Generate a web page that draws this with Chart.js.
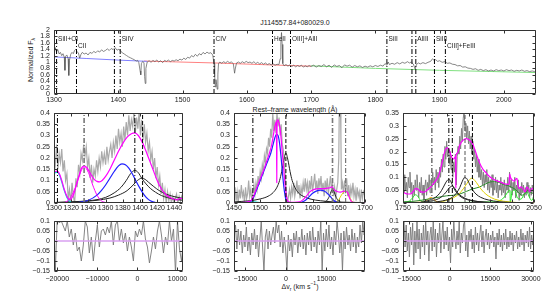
<!DOCTYPE html>
<html>
<head>
<meta charset="utf-8">
<script src="https://cdn.jsdelivr.net/npm/chart.js@4"></script>
<style>
  body { margin: 0; background: #fff; width: 555px; height: 292px; position: relative; overflow: hidden;
         font-family: "Liberation Sans", Arial, sans-serif; color: #222; }
  canvas { position: absolute; }
  .lbl { position: absolute; font-size: 7px; white-space: nowrap; transform: translate(-50%, -50%); }
  .lbl sub, .lbl sup { font-size: 5px; line-height: 0; }
</style>
</head>
<body>
<div class="lbl" style="left:295px;top:22px">J114557.84+080029.0</div>
<div class="lbl" style="left:30px;top:60px;transform:translate(-50%,-50%) rotate(-90deg)">Normalized F<sub>λ</sub></div>
<div class="lbl" style="left:295px;top:109px">Rest&ndash;frame wavelength (Å)</div>
<div class="lbl" style="left:300px;top:286px">Δv<sub>r</sub> (km s<sup>−1</sup>)</div>

<canvas id="cTop"></canvas>
<canvas id="cMidL"></canvas>
<canvas id="cMidC"></canvas>
<canvas id="cMidR"></canvas>
<canvas id="cResL"></canvas>
<canvas id="cResC"></canvas>
<canvas id="cResR"></canvas>

<script>
// ---- Top panel: full normalized spectrum ----
const topWave = [1300,1302,1304,1306,1308,1310,1312,1314,1316,1317,1318,1320,1322,1323,1324,1326,1328,1330,1332,1334,1336,1338,1340,1342,1344,1347,1350,1353,1356,1359,1362,1365,1368,1371,1374,1377,1380,1383,1386,1389,1392,1395,1398,1401,1404,1407,1410,1413,1416,1419,1422,1425,1428,1430,1432,1434,1435,1436,1438,1440,1441,1442,1443,1445,1448,1451,1454,1457,1460,1463,1466,1469,1472,1475,1478,1481,1484,1487,1490,1493,1496,1499,1502,1505,1508,1511,1514,1517,1520,1523,1526,1529,1532,1535,1538,1541,1544,1547,1549,1550,1551,1552,1553,1554,1555,1556,1558,1561,1564,1567,1570,1573,1576,1579,1581,1582,1584,1587,1590,1593,1596,1599,1602,1605,1608,1611,1614,1617,1620,1623,1626,1629,1632,1635,1638,1641,1644,1647,1650,1652,1653,1654,1655,1656,1658,1661,1664,1667,1670,1673,1676,1679,1682,1685,1688,1691,1694,1697,1700,1704,1708,1712,1716,1720,1724,1728,1732,1736,1740,1744,1748,1752,1756,1760,1764,1768,1772,1776,1780,1784,1788,1792,1796,1800,1804,1808,1812,1815,1818,1820,1822,1826,1830,1834,1838,1842,1846,1850,1853,1856,1859,1862,1864,1867,1870,1874,1878,1882,1886,1889,1891,1894,1897,1900,1904,1908,1912,1916,1920,1924,1928,1932,1936,1940,1944,1948,1952,1956,1960,1964,1968,1972,1976,1980,1984,1988,1992,1996,2000,2004,2008,2012,2016,2020,2024,2028,2032,2036,2040,2044,2048,2050];
const topFlux = [1.22,1.45,1.33,1.38,1.25,1.30,1.20,1.26,1.15,0.74,1.18,1.22,1.10,0.58,1.05,1.24,1.30,1.26,1.36,1.40,1.32,1.28,1.12,1.24,1.30,1.25,1.28,1.22,1.30,1.27,1.33,1.29,1.35,1.31,1.38,1.33,1.36,1.41,1.36,1.42,1.39,1.45,1.37,1.40,1.33,1.28,1.24,1.20,1.16,1.13,1.10,1.07,1.03,1.05,0.98,0.72,0.60,0.95,1.02,0.98,0.55,0.33,0.80,1.00,1.04,0.99,1.05,1.01,1.06,1.00,1.04,0.98,1.05,1.02,1.06,1.01,1.05,1.03,1.07,1.04,1.09,1.06,1.12,1.08,1.15,1.12,1.20,1.16,1.24,1.18,1.26,1.22,1.30,1.25,1.31,1.27,1.29,1.22,0.95,0.55,0.22,0.45,0.30,0.15,0.62,0.95,1.00,0.96,1.01,0.97,1.02,0.98,1.00,0.95,0.65,0.78,0.97,1.00,0.96,1.01,0.97,1.02,0.98,1.00,0.96,1.01,0.95,0.99,0.94,0.98,0.93,0.97,0.92,0.95,0.91,0.94,0.90,0.93,0.92,1.10,1.60,1.92,1.55,0.95,0.88,0.92,0.87,0.91,0.86,0.90,0.85,0.89,0.86,0.90,0.84,0.88,0.85,0.89,0.86,0.90,0.84,0.89,0.86,0.92,0.85,0.90,0.83,0.91,0.86,0.89,0.82,0.91,0.87,0.90,0.84,0.89,0.85,0.88,0.83,0.87,0.84,0.88,0.85,0.89,0.86,0.90,0.87,0.95,0.90,1.00,0.92,0.96,0.93,0.98,0.94,0.99,0.96,1.01,0.97,1.00,0.94,0.78,0.92,0.97,0.94,0.98,0.95,0.99,1.02,1.10,1.06,1.07,1.02,1.04,0.99,1.01,0.96,0.97,0.93,0.92,0.88,0.89,0.84,0.85,0.81,0.80,0.77,0.79,0.74,0.77,0.73,0.76,0.72,0.75,0.72,0.76,0.73,0.75,0.72,0.76,0.73,0.75,0.71,0.74,0.72,0.75,0.71,0.73,0.70,0.72,0.70,0.71];
const contBlue  = [[1300,1.16],[1350,1.11],[1400,1.06],[1445,1.02]];
const contRed   = [[1440,1.03],[1550,0.97],[1650,0.90],[1700,0.87]];
const contGreen = [[1700,0.88],[1800,0.80],[1900,0.74],[2050,0.67]];
const topLineWaves = [1304,1335,1394,1403,1549,1640,1668,1818,1857,1863,1892,1909];
const topLabelText = ['SiII+OI','CII','SiIV','CIV','HeII','OIII]+AlII','SiII','AlIII','SiIII','CIII]+FeIII'];
const topLabelWave = [1304,1335,1403,1549,1640,1668,1818,1863,1892,1909];
const topLabelRow  = [0,1,0,0,0,0,0,0,0,1];
const topXTicks = [1300,1400,1500,1600,1700,1800,1900,2000];
const topYTicks = [0,0.2,0.4,0.6,0.8,1,1.2,1.4,1.6,1.8,2];

// ---- Middle left: SiIV region ----
const midLWave = [1300,1301.5,1303,1304.5,1306,1307.5,1309,1310.5,1312,1313.5,1315,1316.5,1318,1319.5,1321,1322.5,1324,1325.5,1327,1328.5,1330,1331.5,1333,1334.5,1336,1337.5,1339,1340.5,1342,1343.5,1345,1346.5,1348,1349.5,1351,1352.5,1354,1355.5,1357,1358.5,1360,1361.5,1363,1364.5,1366,1367.5,1369,1370.5,1372,1373.5,1375,1376.5,1378,1379.5,1381,1382.5,1384,1385.5,1387,1388.5,1390,1391.5,1393,1394.5,1396,1397.5,1399,1400.5,1402,1403.5,1405,1406.5,1408,1409.5,1411,1412.5,1414,1415.5,1417,1418.5,1420,1421.5,1423,1424.5,1426,1427.5,1429,1430.5,1432,1433.5,1435,1436.5,1438,1439.5,1441,1442.5,1444,1445.5,1447,1448.5,1450];
const midLFlux = [0.21,0.17,0.26,0.15,0.22,0.18,0.24,0.14,0.19,0.10,0.13,0.02,0.06,0.00,0.09,0.03,0.00,0.11,0.07,0.17,0.13,0.22,0.19,0.26,0.21,0.25,0.16,0.20,0.11,0.17,0.09,0.15,0.12,0.19,0.14,0.20,0.16,0.23,0.18,0.22,0.17,0.25,0.19,0.23,0.26,0.20,0.27,0.23,0.30,0.24,0.33,0.27,0.31,0.25,0.34,0.28,0.36,0.30,0.39,0.32,0.37,0.34,0.41,0.31,0.38,0.33,0.41,0.30,0.37,0.28,0.35,0.27,0.31,0.23,0.27,0.19,0.23,0.15,0.20,0.11,0.16,0.08,0.12,0.04,0.09,0.02,0.06,0.00,0.05,0.01,0.04,0.00,0.03,0.00,0.02,0.04,0.00,0.03,0.01,0.03,0.01];
const midLTotal = [[1300,0.134],[1302,0.141],[1304,0.142],[1306,0.132],[1309,0.1],[1312,0.06],[1315,0.03],[1318,0.014],[1320,0.018],[1323,0.04],[1326,0.08],[1329,0.12],[1332,0.155],[1335,0.165],[1338,0.158],[1341,0.14],[1344,0.12],[1347,0.104],[1350,0.096],[1353,0.094],[1356,0.1],[1360,0.118],[1365,0.15],[1370,0.19],[1375,0.23],[1380,0.265],[1385,0.293],[1390,0.308],[1394,0.312],[1398,0.3],[1402,0.275],[1406,0.24],[1410,0.2],[1415,0.15],[1420,0.1],[1425,0.062],[1430,0.038],[1435,0.024],[1440,0.016],[1443,0.014],[1446,0.02],[1450,0.02]];
const midLCyan  = [[1300,0.13],[1302,0.136],[1304,0.137],[1306,0.127],[1309,0.094],[1312,0.055],[1315,0.025],[1318,0.008],[1321,0.002],[1325,0]];
const midLCII   = [[1312,0.002],[1316,0.01],[1320,0.03],[1325,0.07],[1330,0.128],[1335,0.16],[1340,0.136],[1345,0.08],[1350,0.035],[1355,0.01],[1360,0.002]];
const midLBlue  = [[1320,0],[1330,0.003],[1340,0.012],[1350,0.035],[1355,0.055],[1360,0.08],[1365,0.11],[1370,0.14],[1375,0.165],[1379,0.174],[1383,0.17],[1387,0.155],[1391,0.13],[1395,0.1],[1400,0.065],[1405,0.035],[1410,0.015],[1415,0.005],[1420,0]];
const midLBlack1 = [[1300,0.002],[1320,0.005],[1340,0.01],[1350,0.015],[1360,0.025],[1370,0.045],[1378,0.07],[1384,0.1],[1389,0.13],[1394,0.145],[1398,0.135],[1402,0.11],[1407,0.085],[1412,0.065],[1418,0.048],[1425,0.033],[1432,0.024],[1440,0.017],[1450,0.012]];
const midLBlack2 = [[1300,0.002],[1330,0.006],[1350,0.012],[1365,0.022],[1375,0.035],[1385,0.055],[1392,0.08],[1397,0.1],[1402,0.11],[1406,0.105],[1410,0.092],[1416,0.073],[1422,0.056],[1430,0.04],[1438,0.03],[1450,0.02]];
const midLLines = [1304,1335,1394,1403];
const midLXTicks = [1300,1320,1340,1360,1380,1400,1420,1440];

// ---- Middle centre: CIV region ----
const midCWave = [1450,1452,1454,1456,1458,1460,1462,1464,1466,1468,1470,1472,1474,1476,1478,1480,1482,1484,1486,1488,1490,1492,1494,1496,1498,1500,1502,1504,1506,1508,1510,1512,1514,1516,1518,1520,1522,1524,1526,1528,1530,1532,1534,1536,1538,1540,1542,1544,1546,1548,1550,1552,1554,1556,1558,1560,1562,1564,1566,1568,1570,1572,1574,1576,1578,1580,1582,1584,1586,1588,1590,1592,1594,1596,1598,1600,1602,1604,1606,1608,1610,1612,1614,1616,1618,1620,1622,1624,1626,1628,1630,1632,1634,1636,1638,1640,1642,1644,1646,1648,1650,1651,1652,1653,1654,1655,1657,1659,1661,1663,1665,1667,1669,1671,1673,1675,1677,1679,1681,1683,1685,1687,1689,1691,1693,1695,1697,1700];
const midCFlux = [0.03,0.07,0.01,0.05,0.00,0.06,0.02,0.08,0.03,0.05,0.00,0.07,0.02,0.04,0.10,0.03,0.06,0.01,0.05,0.08,0.04,0.09,0.06,0.12,0.08,0.14,0.11,0.17,0.14,0.21,0.18,0.24,0.22,0.29,0.25,0.33,0.29,0.40,0.32,0.37,0.31,0.40,0.34,0.38,0.30,0.35,0.26,0.24,0.18,0.12,0.04,0.00,0.03,0.06,0.02,0.07,0.04,0.09,0.03,0.06,0.10,0.04,0.08,0.02,0.07,0.04,0.09,0.05,0.11,0.06,0.09,0.03,0.10,0.06,0.12,0.05,0.09,0.13,0.06,0.10,0.04,0.11,0.07,0.12,0.05,0.09,0.03,0.10,0.06,0.11,0.04,0.08,0.12,0.06,0.09,0.03,0.07,0.02,0.06,0.09,0.20,0.45,0.45,0.45,0.30,0.06,0.09,0.04,0.10,0.06,0.11,0.03,0.08,0.02,0.07,0.04,0.09,0.03,0.06,0.01,0.07,0.03,0.05,0.00,0.06,0.02,0.05,0.03];
const midCTotal = [[1450,0.002],[1470,0.003],[1478,0.006],[1483,0.012],[1488,0.035],[1493,0.065],[1498,0.095],[1503,0.125],[1508,0.155],[1513,0.19],[1518,0.225],[1522,0.26],[1525,0.3],[1528,0.34],[1531,0.362],[1531.6,0.09],[1532.2,0.368],[1534,0.37],[1536,0.355],[1538,0.33],[1540,0.285],[1543,0.2],[1546,0.12],[1549,0.05],[1552,0.012],[1556,0.004],[1565,0.003],[1575,0.005],[1582,0.015],[1588,0.03],[1594,0.048],[1600,0.058],[1607,0.063],[1614,0.064],[1621,0.064],[1628,0.066],[1633,0.068],[1637,0.072],[1640,0.063],[1644,0.054],[1648,0.05],[1652,0.048],[1656,0.05],[1660,0.053],[1664,0.052],[1667,0.045],[1670,0.025],[1673,0.01],[1677,0.003],[1690,0.001],[1700,0]];
const midCBlue  = [[1470,0],[1480,0.005],[1485,0.015],[1490,0.04],[1495,0.07],[1500,0.1],[1505,0.13],[1510,0.16],[1515,0.19],[1520,0.22],[1524,0.255],[1528,0.29],[1531,0.305],[1534,0.3],[1537,0.265],[1540,0.2],[1543,0.12],[1546,0.055],[1549,0.015],[1552,0.002],[1556,0]];
const midCBlue2 = [[1575,0],[1585,0.01],[1592,0.025],[1600,0.043],[1608,0.054],[1615,0.057],[1622,0.053],[1628,0.043],[1634,0.028],[1640,0.012],[1646,0.003],[1652,0]];
const midCBlack = [[1450,0.005],[1480,0.01],[1500,0.018],[1515,0.03],[1525,0.047],[1532,0.07],[1537,0.1],[1541,0.14],[1545,0.19],[1549,0.222],[1553,0.19],[1557,0.14],[1561,0.1],[1566,0.07],[1573,0.045],[1582,0.03],[1595,0.018],[1615,0.01],[1640,0.005],[1700,0.002]];
const midCBlack2 = [[1620,0.002],[1627,0.01],[1632,0.03],[1636,0.055],[1638,0.06],[1641,0.05],[1645,0.025],[1650,0.008],[1656,0.001]];
const midCYellow = [[1640,0],[1646,0.005],[1650,0.015],[1655,0.035],[1660,0.05],[1664,0.052],[1668,0.04],[1672,0.02],[1676,0.006],[1682,0]];
const midCCyan = [[1460,0],[1470,0.003],[1480,0.006],[1490,0.005],[1500,0.002],[1510,0]];
const midCLines = [1486,1549,1638,1663];
const midCXTicks = [1450,1500,1550,1600,1650,1700];

// ---- Middle right: CIII] region ----
const midRWave = [1750,1752,1754,1756,1758,1760,1762,1764,1766,1768,1770,1772,1774,1776,1778,1780,1782,1784,1786,1788,1790,1792,1794,1796,1798,1800,1802,1804,1806,1808,1810,1812,1814,1816,1818,1820,1822,1824,1826,1828,1830,1832,1834,1836,1838,1840,1842,1844,1846,1848,1850,1852,1854,1856,1858,1860,1862,1864,1866,1868,1870,1872,1874,1876,1878,1880,1882,1884,1886,1888,1890,1892,1894,1896,1898,1900,1902,1904,1906,1908,1910,1912,1914,1916,1918,1920,1922,1924,1926,1928,1930,1932,1934,1936,1938,1940,1942,1944,1946,1948,1950,1952,1954,1956,1958,1960,1962,1964,1966,1968,1970,1972,1974,1976,1978,1980,1982,1984,1986,1988,1990,1992,1994,1996,1998,2000,2002,2004,2006,2008,2010,2012,2014,2016,2018,2020,2022,2024,2026,2028,2030,2032,2034,2036,2038,2040,2042,2044,2046,2048,2050];
const midRFlux = [0.09,0.04,0.11,0.05,0.08,0.02,0.10,0.06,0.12,0.04,0.08,0.01,0.07,0.03,0.09,0.05,0.11,0.06,0.02,0.08,0.04,0.10,0.03,0.07,0.01,0.06,0.09,0.03,0.08,0.05,0.11,0.04,0.09,0.06,0.12,0.07,0.10,0.05,0.13,0.08,0.12,0.06,0.14,0.10,0.17,0.12,0.19,0.14,0.22,0.17,0.24,0.18,0.21,0.15,0.20,0.13,0.17,0.10,0.16,0.12,0.19,0.07,0.18,0.22,0.19,0.26,0.21,0.29,0.24,0.33,0.36,0.28,0.31,0.25,0.30,0.23,0.28,0.21,0.26,0.19,0.24,0.17,0.21,0.14,0.19,0.12,0.17,0.10,0.15,0.09,0.13,0.07,0.12,0.06,0.11,0.08,0.13,0.05,0.10,0.04,0.09,0.06,0.11,0.03,0.08,0.05,0.10,0.04,0.09,0.02,0.07,0.05,0.10,0.03,0.08,0.04,0.09,0.02,0.07,0.05,0.10,0.04,0.12,0.06,0.09,0.03,0.08,0.05,0.10,0.02,0.07,0.04,0.09,0.01,0.06,0.03,0.08,0.04,0.07,0.02,0.06,0.03,0.08,0.04,0.07,0.02,0.06,0.03,0.07,0.04,0.06];
const midRTotal = [[1750,0.043],[1755,0.038],[1760,0.035],[1765,0.035],[1770,0.038],[1775,0.048],[1780,0.057],[1785,0.052],[1790,0.045],[1795,0.042],[1800,0.043],[1805,0.05],[1810,0.057],[1815,0.065],[1820,0.076],[1825,0.087],[1830,0.1],[1835,0.125],[1840,0.16],[1844,0.19],[1848,0.21],[1852,0.214],[1856,0.205],[1860,0.185],[1864,0.17],[1868,0.175],[1870.5,0.18],[1871,0.06],[1871.5,0.185],[1875,0.195],[1880,0.225],[1885,0.24],[1890,0.247],[1895,0.25],[1900,0.247],[1905,0.24],[1910,0.228],[1915,0.205],[1920,0.18],[1925,0.158],[1930,0.14],[1935,0.127],[1940,0.118],[1945,0.108],[1950,0.1],[1955,0.094],[1960,0.09],[1965,0.086],[1970,0.083],[1975,0.08],[1980,0.076],[1985,0.074],[1990,0.072],[1993,0.075],[1994.5,0.112],[1996,0.1],[2000,0.09],[2004,0.085],[2008,0.092],[2011,0.096],[2013,0.07],[2016,0.057],[2020,0.063],[2025,0.055],[2030,0.043],[2034,0.063],[2037,0.055],[2041,0.045],[2045,0.055],[2050,0.057]];
const midRBlack1 = [[1790,0.003],[1805,0.008],[1820,0.018],[1830,0.03],[1838,0.048],[1845,0.07],[1850,0.085],[1855,0.092],[1860,0.082],[1865,0.062],[1872,0.042],[1880,0.027],[1890,0.017],[1905,0.01],[1925,0.005],[1950,0.002]];
const midRBlack2 = [[1800,0.003],[1820,0.01],[1835,0.02],[1845,0.035],[1852,0.05],[1858,0.062],[1863,0.066],[1868,0.058],[1875,0.04],[1885,0.025],[1900,0.013],[1920,0.006],[1950,0.002]];
const midRBlack3 = [[1820,0.003],[1840,0.008],[1855,0.015],[1865,0.025],[1873,0.04],[1880,0.06],[1886,0.085],[1891,0.1],[1896,0.095],[1902,0.075],[1909,0.052],[1917,0.035],[1928,0.022],[1945,0.012],[1970,0.005],[2000,0.002]];
const midRYellow = [[1830,0.003],[1850,0.01],[1865,0.02],[1878,0.035],[1888,0.055],[1896,0.075],[1902,0.09],[1907,0.096],[1912,0.092],[1918,0.08],[1926,0.06],[1935,0.042],[1945,0.028],[1960,0.015],[1980,0.007],[2010,0.002]];
const midRDkGreen = [[1750,0.004],[1770,0.006],[1790,0.01],[1810,0.016],[1830,0.022],[1850,0.028],[1865,0.03],[1880,0.035],[1895,0.045],[1910,0.055],[1925,0.062],[1940,0.075],[1950,0.082],[1960,0.083],[1970,0.08],[1980,0.072],[1990,0.068],[2000,0.06],[2008,0.052],[2015,0.04],[2022,0.03],[2030,0.038],[2036,0.05],[2042,0.042],[2050,0.035]];
const midRGreen = [[1750,0.003],[1765,0.008],[1772,0.02],[1778,0.032],[1784,0.026],[1790,0.01],[1800,0.003],[1850,0.002],[1950,0.004],[1975,0.012],[1985,0.03],[1992,0.048],[1995,0.05],[1995.6,0.003],[2000,0.045],[2006,0.05],[2012,0.02],[2020,0.015],[2028,0.035],[2034,0.042],[2040,0.02],[2045,0.01],[2050,0.03]];
const midROrange = [[1750,0.002],[1790,0.003],[1800,0.006],[1808,0.015],[1814,0.022],[1820,0.015],[1828,0.005],[1840,0.002],[2050,0.002]];
const midRLines = [1816,1855,1863,1892,1909];
const midRXTicks = [1750,1800,1850,1900,1950,2000,2050];
const midYTicks = [0,0.05,0.1,0.15,0.2,0.25,0.3,0.35,0.4];
const midRYTicks = [0,0.05,0.1,0.15,0.2,0.25,0.3,0.35];

// ---- Residuals (velocity space) ----
const resLVel = [-20816,-20500,-20000,-19500,-19000,-18000,-17500,-17000,-16500,-16000,-15500,-15000,-14500,-14000,-13500,-13000,-12500,-12000,-11500,-11000,-10500,-10000,-9500,-9000,-8500,-8000,-7500,-7000,-6500,-6000,-5500,-5000,-4500,-4000,-3500,-3000,-2500,-2000,-1500,-1000,-500,0,500,1000,1500,2000,2500,3000,3500,4000,4500,5000,5500,6000,6500,7000,7500,8000,8500,9000,9500,10000,10500,11000,11374];
const resLVal = [0.10,-0.16,0.12,0.09,0.10,0.05,0.10,0.02,0.06,-0.02,0.04,-0.05,-0.03,-0.10,-0.02,0.10,0.07,-0.06,0.02,-0.10,0.00,0.08,-0.03,0.05,0.06,0.03,0.07,0.04,0.10,-0.02,0.08,0.10,0.00,0.06,-0.01,0.04,-0.05,0.02,-0.03,-0.10,0.05,0.02,0.06,0.03,0.10,0.01,-0.03,-0.11,-0.05,0.02,-0.04,0.05,0.10,0.03,-0.06,0.02,-0.02,0.10,0.00,0.06,-0.16,0.10,-0.04,-0.10,-0.02];
const resCVel = [-19161,-18600,-18100,-17600,-17100,-16600,-16100,-15600,-15100,-14600,-14100,-13600,-13100,-12600,-12100,-11600,-11100,-10600,-10100,-9600,-9100,-8600,-8100,-7600,-7100,-6600,-6100,-5600,-5100,-4600,-4100,-3600,-3100,-2600,-2100,-1600,-1100,-600,-100,400,900,1400,1900,2400,2900,3400,3900,4400,4900,5400,5900,6400,6900,7400,7900,8400,8900,9400,9900,10400,10900,11400,11900,12400,12900,13400,13900,14400,14900,15400,15900,16400,16900,17400,17900,18400,18900,19400,19900,20400,20900,21400,21900,22400,22900,23400,23900,24400,24900,25400,25900,26400,26900,27400,27900,28400,28900,29225];
const resCVal = [0.02,0.08,-0.04,0.06,-0.02,0.05,-0.06,0.03,-0.03,0.07,-0.05,0.02,-0.07,0.04,-0.02,0.06,-0.04,0.03,-0.08,0.01,0.10,-0.03,-0.15,0.02,0.06,-0.04,0.05,-0.02,0.03,0.07,-0.01,0.10,0.04,0.08,-0.03,0.05,-0.06,0.02,-0.04,-0.15,0.03,-0.05,0.01,-0.08,0.04,-0.02,0.05,-0.06,0.02,-0.03,0.06,-0.04,0.03,-0.07,0.04,-0.02,0.05,-0.05,0.07,-0.03,0.02,-0.06,0.05,-0.02,0.10,-0.15,0.04,-0.05,0.06,-0.03,0.08,-0.04,0.02,-0.07,0.05,-0.02,0.10,0.03,-0.06,0.04,-0.15,0.05,-0.04,0.07,-0.02,0.03,-0.05,0.06,-0.03,0.04,-0.06,0.02,-0.03,0.08,-0.01,0.10,0.03,0.05];
const resRVel = [-17274,-16900,-16500,-16100,-15700,-15300,-14900,-14500,-14100,-13700,-13300,-12900,-12500,-12100,-11700,-11300,-10900,-10500,-10100,-9700,-9300,-8900,-8500,-8100,-7700,-7300,-6900,-6500,-6100,-5700,-5300,-4900,-4500,-4100,-3700,-3300,-2900,-2500,-2100,-1700,-1300,-900,-500,-100,300,700,1100,1500,1900,2300,2700,3100,3500,3900,4300,4700,5100,5500,5900,6300,6700,7100,7500,7900,8300,8700,9100,9500,9900,10300,10700,11100,11500,11900,12300,12700,13100,13500,13900,14300,14700,15100,15500,15900,16300,16700,17100,17500,17900,18300,18700,19100,19500,19900,20300,20700,21100,21500,21900,22300,22700,23100,23500,23900,24300,24700,25100,25500,25900,26300,26700,27100,27500,27900,28300,28700,29100,29500,29900,30300,30700,31157];
const resRVal = [0.06,0.10,-0.03,0.08,-0.05,0.04,-0.08,0.07,-0.02,0.09,-0.12,0.05,-0.06,0.10,-0.04,0.06,-0.09,0.04,-0.03,0.08,-0.07,0.10,-0.02,0.05,-0.10,0.03,0.07,-0.05,0.10,-0.03,0.06,-0.08,0.04,-0.01,0.09,-0.06,0.03,0.10,-0.04,0.05,-0.02,0.07,-0.05,0.02,-0.11,0.06,-0.03,0.10,0.01,-0.04,0.05,-0.02,0.10,-0.06,0.04,-0.01,0.08,0.10,-0.05,0.03,-0.08,0.05,0.00,0.06,-0.04,0.03,-0.06,0.07,-0.02,0.04,-0.05,0.03,0.08,-0.03,0.05,-0.06,0.02,0.06,-0.02,0.04,-0.04,0.03,-0.01,0.05,-0.03,0.02,-0.09,0.04,-0.02,0.06,-0.03,0.03,-0.05,0.04,-0.02,0.06,-0.04,0.02,-0.03,0.05,-0.02,0.04,-0.05,0.03,-0.01,0.05,-0.04,0.02,-0.03,0.06,-0.02,0.04,-0.05,0.03,-0.01,0.05,-0.03,0.07,-0.04,0.03,-0.02,0.04];
const resYTicks = [-0.15,-0.1,-0.05,0,0.05,0.1];
const resLXTicks = [-20000,-10000,0,10000];
const resCXTicks = [-15000,0,15000];
const resRXTicks = [-15000,0,15000,30000];

// ---- Helpers ----
Chart.defaults.font.family = '"Liberation Sans", Arial, sans-serif';
Chart.defaults.font.size = 7;
Chart.defaults.color = '#222';

const DASHDOT = [5, 2, 1, 2];
const DASHED = [4, 2];

function pts(xs, ys) { return xs.map((x, i) => ({ x: x, y: ys[i] })); }
function pairs(arr) { return arr.map(p => ({ x: p[0], y: p[1] })); }
function fmt(v) { return String(v).replace('-', '\u2212'); }

function spectrum(data, color, width) {
    return { data: data, borderColor: color, borderWidth: width, order: 4 };
}
function model(arr, color, width, order) {
    return { data: pairs(arr), borderColor: color, borderWidth: width || 1, cubicInterpolationMode: 'monotone', order: order || 2 };
}
function vline(x, y0, y1, color, dash, width) {
    return { data: [{ x: x, y: y0 }, { x: x, y: y1 }], borderColor: color, borderDash: dash, borderWidth: width || 1, order: 1 };
}

// Gnuplot-like frame with inward ticks on all four sides
const framePlugin = {
    id: 'frame',
    afterDatasetsDraw(chart) {
        const { ctx, chartArea: a, scales } = chart;
        const L = Math.round(a.left) + 0.5, R = Math.round(a.right) - 0.5;
        const T = Math.round(a.top) + 0.5, B = Math.round(a.bottom) - 0.5;
        ctx.save();
        ctx.strokeStyle = '#333';
        ctx.lineWidth = 1;
        ctx.beginPath();
        ctx.rect(L, T, R - L, B - T);
        scales.x.ticks.forEach(t => {
            const px = Math.round(scales.x.getPixelForValue(t.value)) + 0.5;
            ctx.moveTo(px, B); ctx.lineTo(px, B - 3);
            ctx.moveTo(px, T); ctx.lineTo(px, T + 3);
        });
        scales.y.ticks.forEach(t => {
            const py = Math.round(scales.y.getPixelForValue(t.value)) + 0.5;
            ctx.moveTo(L, py); ctx.lineTo(L + 3, py);
            ctx.moveTo(R, py); ctx.lineTo(R - 3, py);
        });
        ctx.stroke();
        ctx.restore();
    }
};

// Line names along the top of the full spectrum
const lineNamesPlugin = {
    id: 'lineNames',
    afterDatasetsDraw(chart) {
        const { ctx, chartArea: a, scales } = chart;
        ctx.save();
        ctx.font = '6.5px "Liberation Sans", Arial, sans-serif';
        ctx.fillStyle = '#222';
        ctx.textBaseline = 'middle';
        topLabelText.forEach((name, i) => {
            const px = scales.x.getPixelForValue(topLabelWave[i]) + 1.5;
            ctx.fillText(name, px, a.top + (topLabelRow[i] ? 16.5 : 9.5));
        });
        ctx.restore();
    }
};

function makePanel(id, box, xr, xTicks, yr, yTicks, datasets, labelGap, extra) {
    const cv = document.getElementById(id);
    const padL = 40, padT = 6, padR = 16, padB = 16;
    cv.width = box.r - box.l + padL + padR;
    cv.height = box.b - box.t + padT + padB;
    cv.style.left = (box.l - padL) + 'px';
    cv.style.top = (box.t - padT) + 'px';
    return new Chart(cv, {
        type: 'line',
        data: { datasets: datasets },
        options: {
            responsive: false,
            animation: false,
            devicePixelRatio: 1,
            layout: { padding: { left: 0, top: padT, right: padR, bottom: 0 } },
            elements: { point: { radius: 0 }, line: { tension: 0 } },
            plugins: { legend: { display: false }, tooltip: { enabled: false } },
            scales: {
                x: {
                    type: 'linear', min: xr[0], max: xr[1],
                    grid: { display: false, drawTicks: false }, border: { display: false },
                    afterBuildTicks: s => { s.ticks = xTicks.map(v => ({ value: v })); },
                    afterFit: s => { s.height = padB; s.paddingLeft = 0; s.paddingRight = 0; },
                    ticks: { padding: labelGap, maxRotation: 0, autoSkip: false, callback: fmt }
                },
                y: {
                    type: 'linear', min: yr[0], max: yr[1],
                    grid: { display: false, drawTicks: false }, border: { display: false },
                    afterBuildTicks: s => { s.ticks = yTicks.map(v => ({ value: v })); },
                    afterFit: s => { s.width = padL; s.paddingTop = 0; s.paddingBottom = 0; },
                    ticks: { padding: 4, autoSkip: false, callback: fmt }
                }
            }
        },
        plugins: [framePlugin].concat(extra || [])
    });
}

// ---- Top panel ----
const topSets = topLineWaves.map(w => vline(w, 0, 2, '#000', DASHDOT, 1));
topSets.push(model(contBlue, '#8080ff', 1, 3));
topSets.push(model(contRed, '#ff8080', 1, 3));
topSets.push(model(contGreen, '#80e080', 1, 3));
topSets.push({ data: pts(topWave, topFlux), borderColor: '#555', borderWidth: 0.7, order: 2 });
makePanel('cTop', { l: 54, t: 30, r: 536, b: 94 }, [1300, 2050], topXTicks, [0, 2], topYTicks, topSets, 2, [lineNamesPlugin]);

// ---- Middle left ----
makePanel('cMidL', { l: 54, t: 113, r: 183, b: 203 }, [1300, 1450], midLXTicks, [0, 0.4], midYTicks, [
    vline(midLLines[0], 0, 0.4, '#000', DASHDOT, 1),
    vline(midLLines[1], 0, 0.4, '#777', DASHDOT, 1.6),
    vline(midLLines[2], 0, 0.4, '#000', DASHDOT, 1),
    vline(midLLines[3], 0, 0.4, '#000', DASHED, 1),
    model(midLTotal, '#ff00ff', 1.2, 1.5),
    model(midLCII, '#ff00ff', 1),
    model(midLCyan, '#00e0e0', 1.2),
    model(midLBlue, '#2020ff', 1.2),
    model(midLBlack1, '#222', 1),
    model(midLBlack2, '#222', 1),
    spectrum(pts(midLWave, midLFlux), '#aaa', 1.2)
], 1);

// ---- Middle centre ----
makePanel('cMidC', { l: 234, t: 113, r: 365, b: 203 }, [1450, 1700], midCXTicks, [0, 0.4], midYTicks, [
    vline(midCLines[0], 0, 0.4, '#000', DASHDOT, 1),
    vline(midCLines[1], 0, 0.4, '#000', DASHED, 1),
    vline(midCLines[2], 0, 0.4, '#777', DASHDOT, 1.6),
    vline(midCLines[3], 0, 0.4, '#777', DASHDOT, 1.2),
    model(midCTotal, '#ff00ff', 1.2, 1.5),
    model(midCBlue, '#2020ff', 1.2),
    model(midCBlue2, '#2020ff', 1.2),
    model(midCBlack, '#222', 1),
    model(midCBlack2, '#222', 1),
    model(midCYellow, '#e0d000', 1),
    model(midCCyan, '#00e0e0', 1),
    spectrum(pts(midCWave, midCFlux), '#aaa', 1.2)
], 1);

// ---- Middle right ----
makePanel('cMidR', { l: 403, t: 113, r: 534, b: 203 }, [1750, 2050], midRXTicks, [0, 0.35], midRYTicks, [
    vline(midRLines[0], 0, 0.35, '#777', DASHDOT, 1.6),
    vline(midRLines[1], 0, 0.35, '#000', DASHDOT, 1),
    vline(midRLines[2], 0, 0.35, '#000', DASHDOT, 1),
    vline(midRLines[3], 0, 0.35, '#555', DASHED, 1),
    vline(midRLines[4], 0, 0.35, '#000', DASHED, 1),
    model(midRTotal, '#ff00ff', 1.2, 1.5),
    model(midRBlack1, '#222', 1),
    model(midRBlack2, '#222', 1),
    model(midRBlack3, '#222', 1),
    model(midRYellow, '#e0d000', 1),
    model(midRDkGreen, '#2a8a2a', 1),
    model(midRGreen, '#22ee22', 1),
    model(midROrange, '#ff9900', 1),
    spectrum(pts(midRWave, midRFlux), '#808080', 1)
], 1);

// ---- Residual panels ----
function zeroLine(xr) {
    return { data: [{ x: xr[0], y: 0 }, { x: xr[1], y: 0 }], borderColor: '#d8a0f0', borderWidth: 1.5, order: 1 };
}
const resLRange = [-20816, 11374], resCRange = [-19161, 29225], resRRange = [-17274, 31157];
makePanel('cResL', { l: 54, t: 221, r: 183, b: 271 }, resLRange, resLXTicks, [-0.15, 0.1], resYTicks,
    [zeroLine(resLRange), spectrum(pts(resLVel, resLVal), '#777', 0.9)], 4);
makePanel('cResC', { l: 234, t: 221, r: 365, b: 271 }, resCRange, resCXTicks, [-0.15, 0.1], resYTicks,
    [zeroLine(resCRange), spectrum(pts(resCVel, resCVal), '#777', 0.9)], 4);
makePanel('cResR', { l: 403, t: 221, r: 534, b: 271 }, resRRange, resRXTicks, [-0.15, 0.1], resYTicks,
    [zeroLine(resRRange), spectrum(pts(resRVel, resRVal), '#777', 0.9)], 4);
</script>
</body>
</html>
